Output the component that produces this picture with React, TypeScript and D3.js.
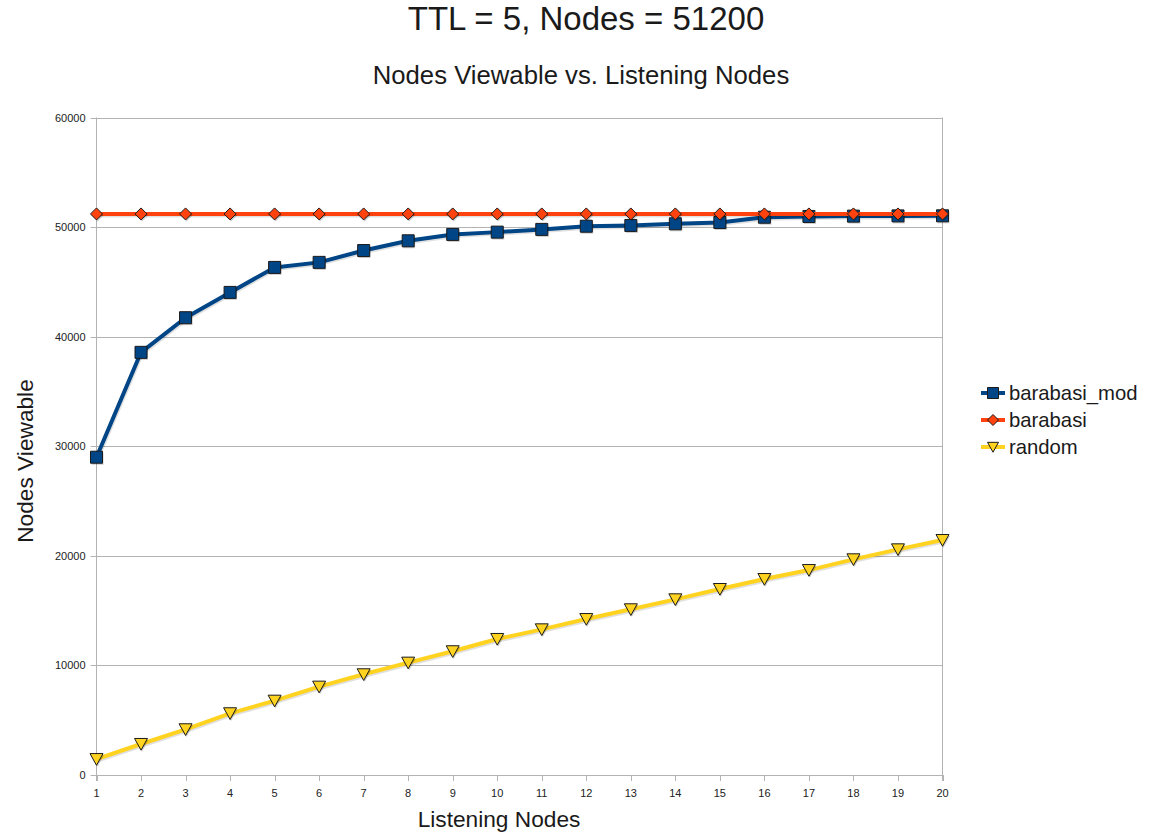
import React from "react";
import * as d3 from "d3";

// Listening nodes (x categories)
const listeningNodes = d3.range(1, 21);

const barabasiMod = [
  29000, 38570, 41730, 44040, 46320, 46780, 47860, 48750, 49330, 49540,
  49790, 50080, 50150, 50300, 50420, 50900, 50970, 51000, 51020, 51030,
];
const barabasi = [
  51200, 51200, 51200, 51200, 51200, 51200, 51200, 51200, 51200, 51200,
  51200, 51200, 51200, 51200, 51200, 51200, 51200, 51200, 51200, 51200,
];
const random = [
  1450, 2830, 4170, 5630, 6780, 8060, 9190, 10250, 11290, 12410,
  13290, 14230, 15120, 16030, 16970, 17880, 18700, 19680, 20590, 21440,
];

const yTicks = [0, 10000, 20000, 30000, 40000, 50000, 60000];

const seriesNames = ["barabasi_mod", "barabasi", "random"];
const seriesColors = ["#004586", "#ff420e", "#ffd320"];
const seriesShapes = ["square", "diamond", "triangleDown"];

const W = 1155;
const H = 836;
const plot = { left: 96.5, right: 942.5, top: 117.5, bottom: 775 };
const FONT = "'Liberation Sans', Arial, sans-serif";

function markerPath(shape: string, s: number): string {
  const h = s / 2;
  if (shape === "square") return `M${-h},${-h}H${h}V${h}H${-h}Z`;
  if (shape === "diamond") return `M0,${-h}L${h},0L0,${h}L${-h},0Z`;
  return `M${-h},${-h * 0.85}L${h},${-h * 0.85}L0,${h * 0.95}Z`;
}

export default function App() {
  const x = d3
    .scaleLinear()
    .domain([1, 20])
    .range([plot.left, plot.right]);
  const y = d3
    .scaleLinear()
    .domain([0, 60000])
    .range([plot.bottom, plot.top]);

  const data = [barabasiMod, barabasi, random];
  const line = d3
    .line<number>()
    .x((_, i) => x(listeningNodes[i]))
    .y((v) => y(v));

  const markerSizes = [12, 12, 13];

  const legendX = 993;
  const legendY = [393, 420, 447];

  return (
    <svg
      width={W}
      height={H}
      style={{ position: "absolute", left: 0, top: 0, background: "#fff" }}
      fontFamily={FONT}
    >
      <rect width={W} height={H} fill="#fff" />
      {/* titles */}
      <text x={586} y={30} fontSize={33} textAnchor="middle" fill="#1a1a1a">
        TTL = 5, Nodes = 51200
      </text>
      <text x={581} y={84} fontSize={25.7} textAnchor="middle" fill="#1a1a1a">
        Nodes Viewable vs. Listening Nodes
      </text>

      {/* horizontal grid */}
      {yTicks.map((t) => (
        <line
          key={t}
          x1={plot.left}
          x2={plot.right}
          y1={Math.round(y(t)) + 0.5}
          y2={Math.round(y(t)) + 0.5}
          stroke="#b3b3b3"
          strokeWidth={1}
        />
      ))}
      {/* axes frame */}
      <line x1={plot.left} x2={plot.left} y1={plot.top} y2={plot.bottom + 6} stroke="#b3b3b3" />
      <line x1={plot.right} x2={plot.right} y1={plot.top} y2={plot.bottom + 6} stroke="#b3b3b3" />
      {/* y ticks */}
      {yTicks.map((t) => (
        <g key={"yt" + t}>
          <line
            x1={plot.left - 6}
            x2={plot.left}
            y1={Math.round(y(t)) + 0.5}
            y2={Math.round(y(t)) + 0.5}
            stroke="#b3b3b3"
          />
          <text
            x={plot.left - 11}
            y={y(t) + 4}
            fontSize={11}
            textAnchor="end"
            fill="#222"
          >
            {t}
          </text>
        </g>
      ))}
      {/* x ticks */}
      {listeningNodes.map((n) => (
        <g key={"xt" + n}>
          <line
            x1={Math.round(x(n)) + 0.5}
            x2={Math.round(x(n)) + 0.5}
            y1={plot.bottom}
            y2={plot.bottom + 6}
            stroke="#b3b3b3"
          />
          <text x={x(n)} y={797} fontSize={11} textAnchor="middle" fill="#222">
            {n}
          </text>
        </g>
      ))}

      {/* axis titles */}
      <text x={499} y={827} fontSize={22.7} textAnchor="middle" fill="#1a1a1a">
        Listening Nodes
      </text>
      <text
        transform={`translate(33,461) rotate(-90)`}
        fontSize={22.7}
        textAnchor="middle"
        fill="#1a1a1a"
      >
        Nodes Viewable
      </text>

      {/* series */}
      {data.map((vals, si) => (
        <g key={seriesNames[si]}>
          <path
            d={line(vals) || ""}
            fill="none"
            stroke="rgba(0,0,0,0.12)"
            strokeWidth={4}
            transform="translate(1,1.5)"
          />
          <path
            d={line(vals) || ""}
            fill="none"
            stroke={seriesColors[si]}
            strokeWidth={4}
            strokeLinejoin="round"
          />
          {vals.map((v, i) => (
            <g key={i} transform={`translate(${x(listeningNodes[i])},${y(v)})`}>
              <path
                d={markerPath(seriesShapes[si], markerSizes[si])}
                fill="rgba(0,0,0,0.2)"
                transform="translate(1,1.5)"
              />
              <path
                d={markerPath(seriesShapes[si], markerSizes[si])}
                fill={seriesColors[si]}
                stroke="#1a1a1a"
                strokeWidth={1}
              />
            </g>
          ))}
        </g>
      ))}

      {/* legend */}
      {seriesNames.map((name, si) => (
        <g key={"lg" + name} transform={`translate(${legendX},${legendY[si]})`}>
          <line x1={-12} x2={12} y1={0} y2={0} stroke={seriesColors[si]} strokeWidth={4} />
          <path
            d={markerPath(seriesShapes[si], 11)}
            fill={seriesColors[si]}
            stroke="#1a1a1a"
            strokeWidth={1}
          />
          <text x={16} y={7} fontSize={20.3} fill="#1a1a1a">
            {name}
          </text>
        </g>
      ))}
    </svg>
  );
}
